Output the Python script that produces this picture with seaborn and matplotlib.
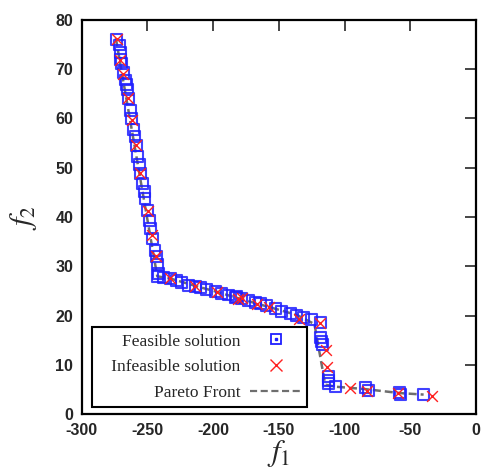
import numpy as np
import pandas as pd
import matplotlib
matplotlib.use("Agg")
import matplotlib.pyplot as plt
import seaborn as sns
from matplotlib.legend_handler import HandlerTuple

# Feasible solutions (blue boxes)
feasible_f1 = [
    -273.3, -271.5, -270.8, -270.2, -269.5, -268.3, -267.0, -266.2, -265.2, -264.5,
    -263.2, -261.9, -260.7, -259.4, -258.6, -257.6, -256.3, -255.0, -253.5, -252.5,
    -251.8, -250.0, -248.5, -247.4, -245.9, -244.2, -242.9, -242.4, -241.6, -242.4,
    -237.8, -232.7, -227.6, -223.8, -218.8, -213.7, -209.9, -204.8, -198.5, -193.4,
    -188.4, -183.3, -182.0, -178.2, -173.2, -168.1, -164.3, -159.2, -152.8, -147.7,
    -141.4, -136.3, -131.3, -124.9, -118.6, -118.1, -117.3, -116.6, -112.3, -112.3,
    -112.3, -107.2, -84.4, -81.9, -58.3, -57.5, -40.0,
]
feasible_f2 = [
    76.1, 74.9, 73.4, 72.0, 71.2, 69.3, 67.8, 66.8, 65.8, 64.1,
    61.7, 60.0, 57.7, 56.3, 54.6, 52.3, 50.6, 48.9, 46.9, 45.2,
    43.8, 41.4, 39.4, 37.7, 35.7, 33.3, 32.0, 30.3, 28.6, 28.0,
    27.8, 27.6, 27.1, 26.7, 26.2, 25.9, 25.8, 25.4, 24.9, 24.5,
    24.2, 23.7, 23.9, 23.5, 23.0, 22.6, 22.4, 22.0, 21.5, 20.8,
    20.5, 20.1, 19.7, 19.3, 18.6, 15.6, 14.7, 14.1, 7.6, 6.8,
    6.2, 5.7, 5.5, 4.9, 4.4, 4.1, 4.1,
]

# Infeasible solutions (red crosses)
infeasible_f1 = [
    -273.3, -270.8, -268.3, -264.5, -261.4, -258.6, -255.6, -249.7, -246.2, -243.4,
    -232.7, -213.7, -197.2, -180.8, -178.2, -166.8, -157.9, -135.1, -118.6,
    -114.0, -113.5, -96.3, -83.1, -59.5, -33.6,
]
infeasible_f2 = [
    76.1, 71.9, 69.1, 64.1, 59.6, 54.6, 48.9, 41.3, 36.4, 32.1,
    27.6, 26.0, 24.9, 23.3, 23.5, 22.4, 21.7, 19.3, 18.5,
    13.0, 9.5, 5.3, 4.8, 4.3, 3.8,
]

# Pareto front vertices
front_f1 = [-274.0, -242.5, -232.0, -213.0, -198.0, -183.0, -166.0, -150.0, -136.0, -123.0,
            -114.8, -107.0, -84.0, -58.0, -40.0]
front_f2 = [76.3, 28.0, 27.5, 26.0, 24.9, 23.7, 22.4, 21.2, 20.1, 18.3,
            6.0, 5.6, 5.1, 4.3, 4.0]

legend_labels = ["Feasible solution", "   Infeasible solution", "Pareto Front"]

sns.set_style("white")
plt.rcParams["font.family"] = ["Liberation Serif", "DejaVu Sans"]
plt.rcParams["mathtext.fontset"] = "stix"
plt.rcParams["axes.unicode_minus"] = False

fig = plt.figure(figsize=(4.83, 4.70), dpi=100)
ax = fig.add_axes([0.169, 0.1185, 0.817, 0.8392])

front_df = pd.DataFrame({"f1": front_f1, "f2": front_f2})
sns.lineplot(data=front_df, x="f1", y="f2", sort=False, ax=ax, color="#6e6e6e",
             linestyle=(0, (3.2, 1.6)), linewidth=1.8, zorder=2)

feas_df = pd.DataFrame({"f1": feasible_f1, "f2": feasible_f2})
sns.scatterplot(data=feas_df, x="f1", y="f2", ax=ax, marker="s", s=62,
                facecolor="none", edgecolor="#1f1fff", linewidth=1.5, alpha=0.85, zorder=3)

infeas_df = pd.DataFrame({"f1": infeasible_f1, "f2": infeasible_f2})
sns.scatterplot(data=infeas_df, x="f1", y="f2", ax=ax, marker="x", s=60,
                color="#ff2020", linewidth=1.0, zorder=4)

ax.set_xlim(-300, 0)
ax.set_ylim(0, 80)
ax.set_xticks([-300, -250, -200, -150, -100, -50, 0])
ax.set_yticks([0, 10, 20, 30, 40, 50, 60, 70, 80])
ax.tick_params(direction="in", length=8, width=1.2, top=True, right=True, pad=6)
for lab in ax.get_xticklabels() + ax.get_yticklabels():
    lab.set_fontfamily("Liberation Sans")
    lab.set_fontweight("bold")
    lab.set_fontsize(11.5)
for sp in ax.spines.values():
    sp.set_linewidth(1.6)
    sp.set_color("black")

ax.set_xlabel(r"$f_1$", fontsize=22, labelpad=0)
ax.set_ylabel(r"$f_2$", fontsize=22, labelpad=12)

# legend handles in gnuplot style
h_box = plt.Line2D([], [], marker="s", linestyle="none", markersize=7.5,
                   markerfacecolor="none", markeredgecolor="#1f1fff", markeredgewidth=1.3)
h_dot = plt.Line2D([], [], marker="s", linestyle="none", markersize=1.6,
                   markerfacecolor="#1f1fff", markeredgecolor="#1f1fff")
h_x = plt.Line2D([], [], marker="x", linestyle="none", markersize=8,
                 color="#ff2020", markeredgewidth=1.0)
h_line = plt.Line2D([], [], color="#6e6e6e", linestyle=(0, (3.2, 1.6)), linewidth=1.6)
leg = ax.legend([(h_box, h_dot), h_x, h_line], legend_labels,
                handler_map={tuple: HandlerTuple(ndivide=1)},
                loc="lower left", bbox_to_anchor=(0.026, 0.0185), borderaxespad=0,
                markerfirst=False, fancybox=False, framealpha=1, edgecolor="black",
                prop={"family": "Liberation Serif", "size": 12.5},
                handlelength=2.95, labelspacing=0.55, borderpad=0.35, handletextpad=0.57)
leg.get_frame().set_linewidth(1.5)
for t in leg.get_texts():
    t.set_ha("right")

fig.savefig("out.png", dpi=100)
